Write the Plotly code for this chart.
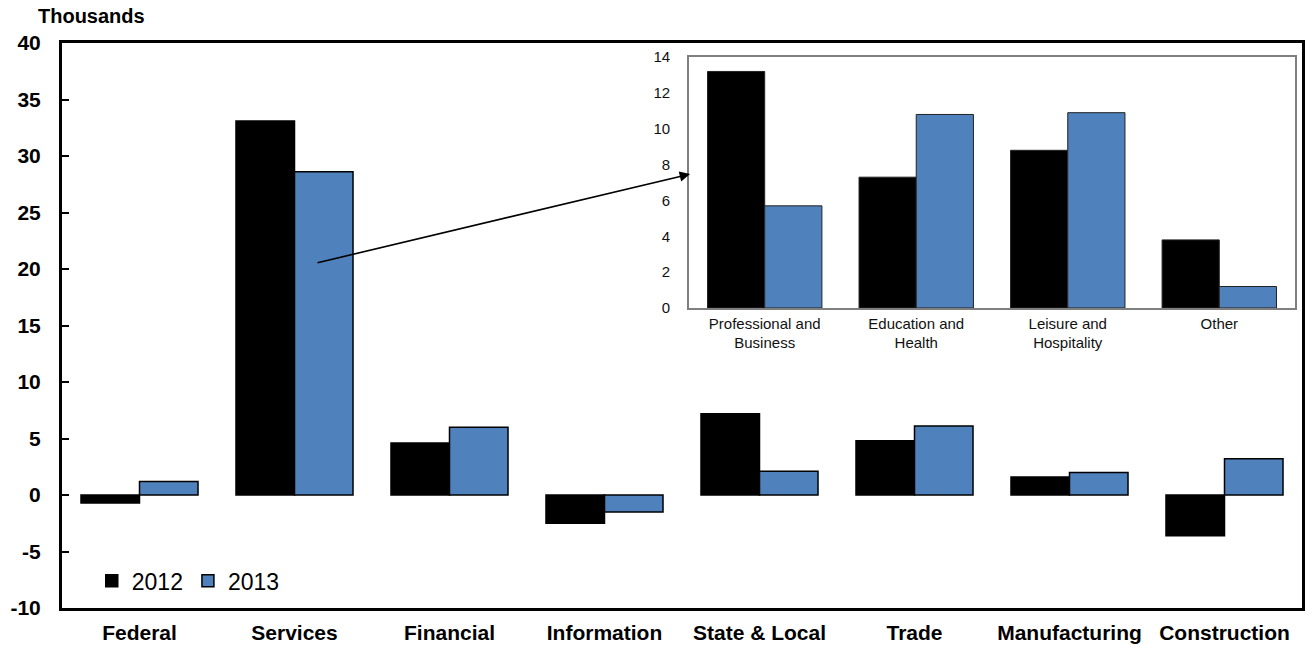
import plotly.graph_objects as go

# Main chart: change in employment by sector (thousands)
sectors = ["Federal", "Services", "Financial", "Information",
           "State & Local", "Trade", "Manufacturing", "Construction"]
vals_2012 = [-0.7, 33.1, 4.6, -2.5, 7.2, 4.8, 1.6, -3.6]
vals_2013 = [1.2, 28.6, 6.0, -1.5, 2.1, 6.1, 2.0, 3.2]

# Inset: breakdown of services
svc_groups = ["Professional and<br>Business", "Education and<br>Health",
              "Leisure and<br>Hospitality", "Other"]
svc_2012 = [13.2, 7.3, 8.8, 3.8]
svc_2013 = [5.7, 10.8, 10.9, 1.2]

main_ticks = [-10, -5, 0, 5, 10, 15, 20, 25, 30, 35, 40]
main_tick_text = ["-10", "-5", "0", "5", "10", "15", "20", "25", "30", "35", "40"]
inset_ticks = [0, 2, 4, 6, 8, 10, 12, 14]

BLUE = "#4F81BD"
FONT = "Liberation Sans, Arial, sans-serif"
bold = dict(family=FONT, size=21, color="black", weight="bold")
inset_font = dict(family=FONT, size=15, color="#111111")

fig = go.Figure()

fig.add_trace(go.Bar(x=sectors, y=vals_2012, name="2012",
                     marker=dict(color="black", line=dict(color="black", width=1.5)),
                     xaxis="x", yaxis="y"))
fig.add_trace(go.Bar(x=sectors, y=vals_2013, name="2013",
                     marker=dict(color=BLUE, line=dict(color="black", width=1.5)),
                     xaxis="x", yaxis="y"))

fig.add_trace(go.Bar(x=svc_groups, y=svc_2012, showlegend=False,
                     marker=dict(color="black", line=dict(color="#222222", width=1)),
                     xaxis="x2", yaxis="y2"))
fig.add_trace(go.Bar(x=svc_groups, y=svc_2013, showlegend=False,
                     marker=dict(color=BLUE, line=dict(color="#222222", width=1)),
                     xaxis="x2", yaxis="y2"))

fig.update_layout(
    width=1309, height=645,
    margin=dict(l=62, r=7, t=43, b=37, autoexpand=False),
    paper_bgcolor="white", plot_bgcolor="white",
    barmode="group", bargap=0.245, bargroupgap=0,
    font=dict(family=FONT, color="black"),
    xaxis=dict(domain=[0, 1], showgrid=False, zeroline=False, automargin=False,
               showline=True, linecolor="black", linewidth=3, mirror=True,
               ticks="", tickfont=bold, ticklabelstandoff=4, fixedrange=True),
    yaxis=dict(range=[-10, 40], tickvals=main_ticks, ticktext=main_tick_text,
               showgrid=False, automargin=False,
               zeroline=False, showline=True, linecolor="black", linewidth=3,
               mirror=True, ticks="inside", ticklen=7, tickwidth=1.5,
               tickcolor="black", tickfont=bold, ticklabelstandoff=14,
               fixedrange=True),
    xaxis2=dict(domain=[0.5056, 0.9944], anchor="y2", showgrid=False,
                zeroline=False, showline=True, linecolor="#7f7f7f", linewidth=1.5,
                mirror=True, ticks="", tickfont=inset_font,
                ticklabelstandoff=1, fixedrange=True),
    yaxis2=dict(domain=[0.531, 0.975], anchor="x2", range=[0, 14],
                tickvals=inset_ticks, showgrid=False, zeroline=False,
                showline=True, linecolor="#7f7f7f", linewidth=1.5, mirror=True,
                ticks="", tickfont=inset_font,
                ticklabelstandoff=14, fixedrange=True),
    legend=dict(orientation="h", x=0.024, y=0.048, xanchor="left",
                yanchor="middle", bgcolor="rgba(0,0,0,0)",
                font=dict(family=FONT, size=23, color="black"),
                itemwidth=30, tracegroupgap=0),
    annotations=[
        dict(text="Thousands", xref="paper", yref="paper", x=-0.021, y=1.047,
             xanchor="left", yanchor="middle", showarrow=False,
             font=dict(family=FONT, size=20, color="black", weight="bold")),
        dict(text="", xref="paper", yref="paper", x=0.5065, y=0.768,
             ax=-374, ay=89, showarrow=True, arrowhead=2, arrowsize=1.3,
             arrowwidth=1.6, arrowcolor="black"),
    ],
)

fig.write_html("out.html")
